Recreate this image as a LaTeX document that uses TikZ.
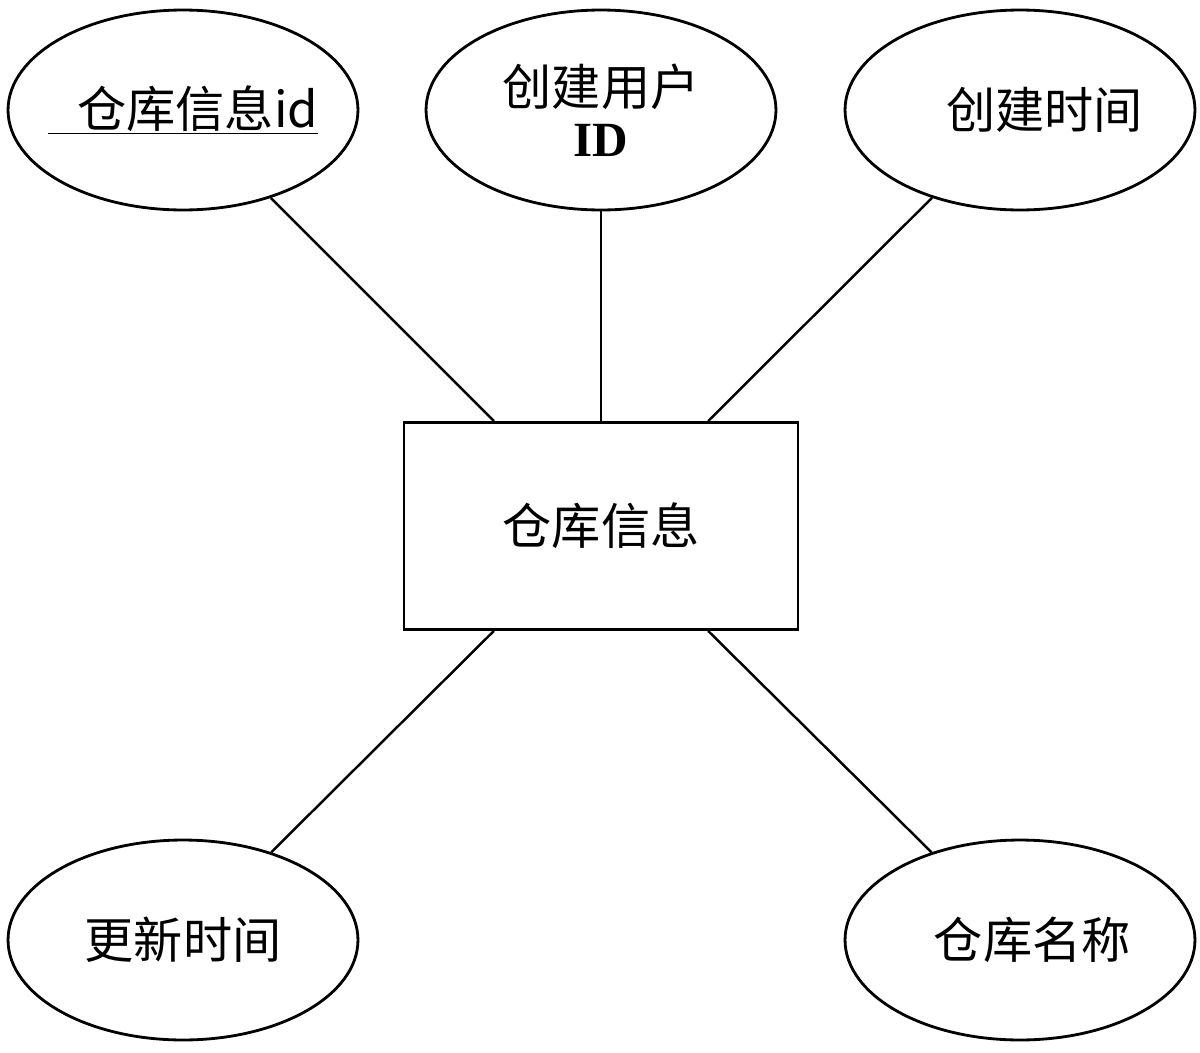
\documentclass[tikz,border=0pt]{standalone}
\usepackage{fontspec}
\setmainfont{Liberation Serif}
\newfontfamily\cjk{Noto Sans CJK SC}
\usetikzlibrary{shapes.geometric,calc}
\tikzset{
  attr/.style={ellipse, draw, line width=1.6pt, inner sep=0pt, minimum width=7cm, minimum height=4cm, font=\cjk\fontsize{28}{33}\selectfont, align=center},
  entity/.style={rectangle, draw, line width=1.6pt, minimum width=7.88cm, minimum height=4.14cm, font=\cjk\fontsize{28}{33}\selectfont},
  link/.style={line width=1.4pt}
}
\begin{document}
\begin{tikzpicture}[x=0.02cm,y=-0.02cm]
  \useasboundingbox (0,0) rectangle (1200,1052);
  % entity
  \node[entity] (box) at (601,526) {仓库信息};
  % attributes
  \node[attr] (wid) at (183,110) {\makebox[0pt]{\underline{\hspace{0.6em}仓库信息id}}};
  \node[attr] (uid) at (601,110) {创建用户\\[-4pt]{\rmfamily\bfseries ID}};
  \node[attr] (ctime) at (1020,110) {\hspace{1em}创建时间};
  \node[attr] (utime) at (183,940) {更新时间};
  \node[attr] (wname) at (1020,940) {\hspace{0.5em}仓库名称};
  % attachment points
  \coordinate (nw) at ($(box.north west)!0.23!(box.north east)$);
  \coordinate (ne) at ($(box.north west)!0.77!(box.north east)$);
  \coordinate (sw) at ($(box.south west)!0.23!(box.south east)$);
  \coordinate (se) at ($(box.south west)!0.77!(box.south east)$);
  \draw[link] (wid) -- (nw);
  \draw[link] (uid) -- (box.north);
  \draw[link] (ctime) -- (ne);
  \draw[link] (utime) -- (sw);
  \draw[link] (wname) -- (se);
\end{tikzpicture}
\end{document}
